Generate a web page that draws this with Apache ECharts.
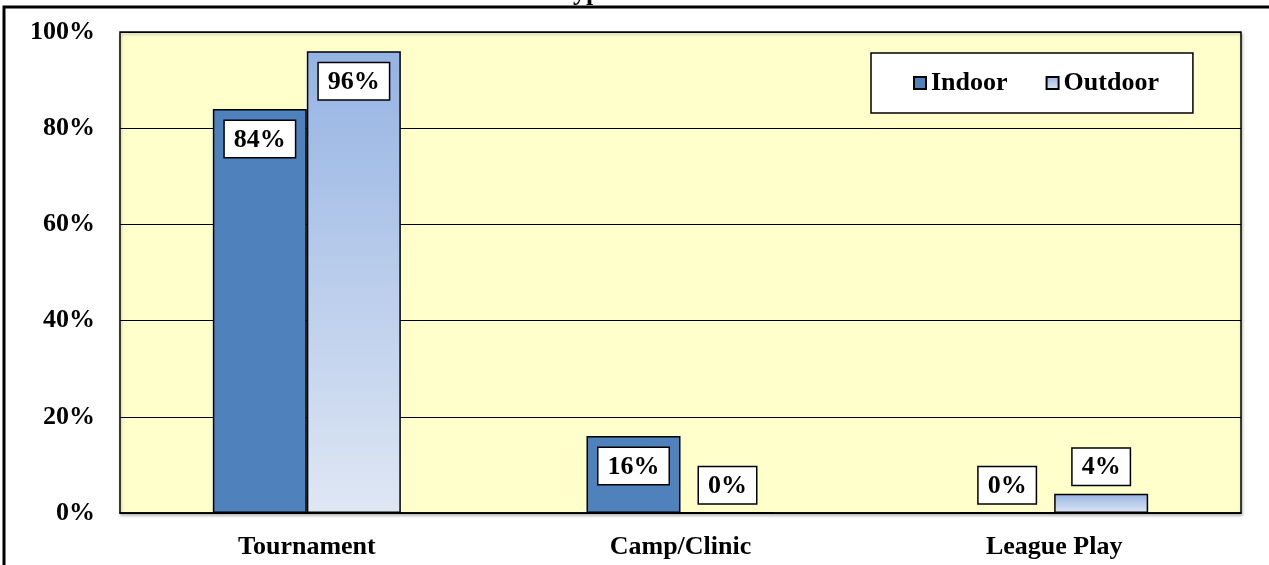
<!DOCTYPE html>
<html>
<head>
<meta charset="utf-8">
<script src="https://cdn.jsdelivr.net/npm/echarts@6/dist/echarts.min.js"></script>
<style>
html,body{margin:0;padding:0;background:#fff;}
#chart{width:1269px;height:565px;}
</style>
</head>
<body>
<div id="chart"></div>
<script>
const categories = ['Tournament', 'Camp/Clinic', 'League Play'];
const indoorValues = [84, 16, 0];
const outdoorValues = [96, 0, 4];
const yTicks = [0, 20, 40, 60, 80, 100];
const titleText = 'Type of Event';

const FONT = '"Liberation Serif", "Times New Roman", serif';
const FS = 26;

function labelFor(v) {
  if (v < 10) {
    return { position: 'top', distance: 9 };
  }
  return { position: 'insideTop', distance: 12 };
}
function buildData(values) {
  return values.map(v => ({ value: v, label: labelFor(v) }));
}

const labelStyle = {
  show: true,
  formatter: '{c}%',
  fontFamily: FONT,
  fontWeight: 'bold',
  fontSize: FS,
  color: '#000',
  backgroundColor: '#fff',
  borderColor: '#000',
  borderWidth: 1.5,
  padding: [6, 9, 4, 9]
};

const chart = echarts.init(document.getElementById('chart'));
chart.setOption({
  animation: false,
  title: {
    text: titleText,
    left: 'center',
    top: -25,
    textStyle: { fontFamily: FONT, fontWeight: 'bold', fontSize: FS, color: '#000' }
  },
  graphic: [{
    type: 'rect',
    shape: { x: 4, y: 7, width: 1400, height: 700 },
    style: { fill: 'none', stroke: '#000', lineWidth: 3 },
    z: 100
  }],
  legend: {
    left: 871,
    top: 53,
    backgroundColor: '#fff',
    borderColor: '#000',
    borderWidth: 1.5,
    padding: [17, 34, 17, 42],
    itemGap: 38,
    itemWidth: 12,
    itemHeight: 12,
    icon: 'rect',
    textStyle: { fontFamily: FONT, fontWeight: 'bold', fontSize: FS, color: '#000', padding: [0, 0, 0, 0] },
    data: ['Indoor', 'Outdoor']
  },
  grid: {
    left: 120,
    right: 28,
    top: 32,
    bottom: 52,
    show: true,
    backgroundColor: '#FFFFCC',
    borderColor: '#000',
    borderWidth: 1.5,
    shadowColor: 'rgba(0,0,0,0.25)',
    shadowBlur: 3,
    shadowOffsetY: 2,
    shadowOffsetX: 1
  },
  xAxis: {
    type: 'category',
    data: categories,
    axisTick: { show: false },
    axisLine: { show: true, lineStyle: { color: '#000', width: 1.5 } },
    axisLabel: { fontFamily: FONT, fontWeight: 'bold', fontSize: FS, color: '#000', margin: 21 }
  },
  yAxis: {
    type: 'value',
    min: yTicks[0],
    max: yTicks[yTicks.length - 1],
    interval: 20,
    axisLine: { show: false },
    axisTick: { show: false },
    splitLine: { lineStyle: { color: '#000', width: 1.2 } },
    axisLabel: { fontFamily: FONT, fontWeight: 'bold', fontSize: FS, color: '#000', margin: 25, formatter: '{value}%' }
  },
  series: [
    {
      name: 'Indoor',
      type: 'bar',
      barWidth: 94,
      barGap: '0%',
      data: buildData(indoorValues),
      itemStyle: { color: '#4F81BD', borderColor: '#000', borderWidth: 1.5 },
      label: labelStyle
    },
    {
      name: 'Outdoor',
      type: 'bar',
      barWidth: 94,
      barGap: '0%',
      data: buildData(outdoorValues),
      itemStyle: {
        color: new echarts.graphic.LinearGradient(0, 0, 0, 1, [
          { offset: 0, color: '#95B3E3' },
          { offset: 1, color: '#DFE7F4' }
        ]),
        borderColor: '#000',
        borderWidth: 1.5
      },
      label: labelStyle
    }
  ]
});
</script>
</body>
</html>
